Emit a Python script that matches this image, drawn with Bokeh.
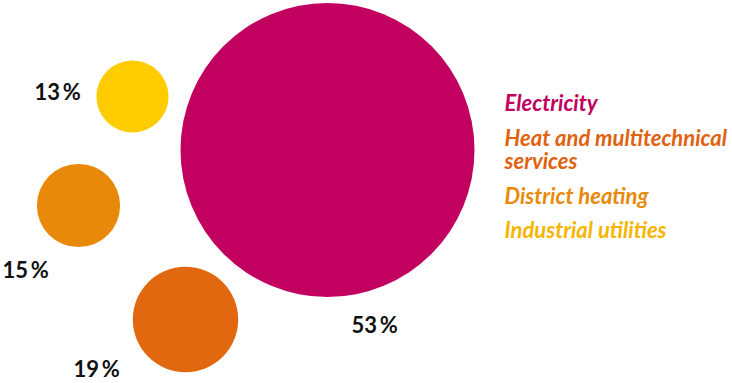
from bokeh.plotting import figure
from bokeh.models import Range1d, ColumnDataSource
from bokeh.core.properties import value
from bokeh.embed import file_html
from bokeh.resources import INLINE

# Data
categories = ["Electricity", "Heat and multitechnical\nservices", "District heating", "Industrial utilities"]
shares = [53, 19, 15, 13]
circle_colors = ["#C20060", "#E2680F", "#E8890A", "#FFCC00"]
legend_colors = ["#C0005F", "#E0620E", "#E8890A", "#F7B500"]

# Packed bubble layout (page pixel coordinates)
cx = [327, 185, 78, 132]
cy = [149.5, 319, 205, 96]
label_x = [351, 73, 2, 34]
label_y = [324, 368, 269, 91]
legend_x = 504
legend_y = [102, 137, 195, 229]

k = 147.0 / 53.0  # radius scale (radius proportional to share)

p = figure(width=732, height=383, output_backend="svg", toolbar_location=None,
           x_range=Range1d(0, 732), y_range=Range1d(383, 0), min_border=0)
p.axis.visible = False
p.grid.visible = False
p.outline_line_color = None
p.background_fill_color = "white"
p.border_fill_color = "white"

src = ColumnDataSource(dict(x=cx, y=cy, r=[s * k for s in shares], color=circle_colors,
                            lx=label_x, ly=label_y, lab=[f"{s}\u2009%" for s in shares]))
p.circle(x="x", y="y", radius="r", fill_color="color", line_color=None, source=src)
p.text(x="lx", y="ly", text="lab", source=src, text_font=value("Lato"), text_font_style="bold",
       text_font_size="22px", text_color="#111111", text_baseline="alphabetic", text_align="left")

# Legend texts
lx, ly, lt, lc = [], [], [], []
for cat, col, y0 in zip(categories, legend_colors, legend_y):
    for i, line in enumerate(cat.split("\n")):
        lx.append(legend_x)
        ly.append(y0 + i * 23)
        lt.append(line)
        lc.append(col)
lsrc = ColumnDataSource(dict(x=lx, y=ly, t=lt, c=lc))
p.text(x="x", y="y", text="t", text_color="c", source=lsrc, text_font=value("Lato"),
       text_font_style="bold italic", text_font_size="22px", text_baseline="alphabetic",
       text_align="left")

open("out.html", "w").write(file_html(p, INLINE))
